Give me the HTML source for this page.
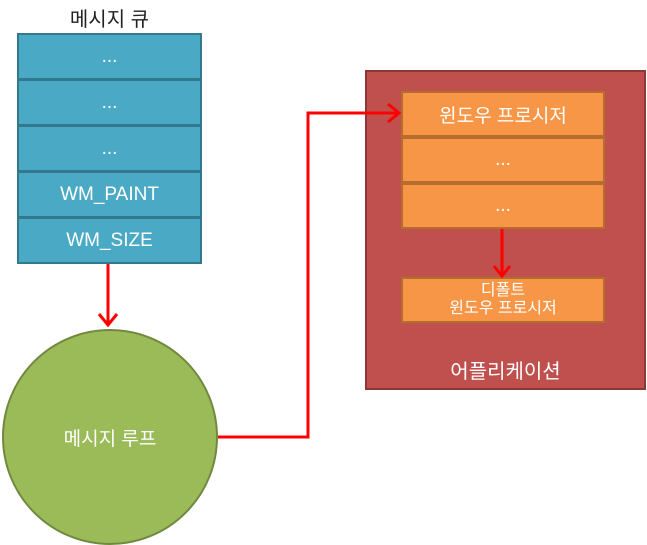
<!DOCTYPE html>
<html><head><meta charset="utf-8"><style>
body{margin:0;width:647px;height:544px;background:#fff;position:relative;overflow:hidden;font-family:"Liberation Sans","Noto Sans CJK KR",sans-serif}
.a{position:absolute;box-sizing:border-box;display:flex;align-items:center;justify-content:center;text-align:center;color:#fff}
.q{background:#4aa9c4;border:2px solid #33788c;font-size:19px;left:17px;width:185px;height:47px}
.o{background:#f79646;border:2px solid #b66d2c;font-size:19px;left:401px;width:204px;height:46px}
</style></head><body>
<div class="a" style="left:17px;top:2px;width:185px;height:30px;color:#222;font-size:20px">메시지 큐</div>
<div class="a q" style="top:33px">...</div>
<div class="a q" style="top:79px">...</div>
<div class="a q" style="top:125px">...</div>
<div class="a q" style="top:171px">WM_PAINT</div>
<div class="a q" style="top:217px">WM_SIZE</div>
<div class="a" style="left:365px;top:70px;width:281px;height:320px;background:#c0504d;border:2px solid #8c3836"></div>
<div class="a o" style="top:91px">윈도우 프로시저</div>
<div class="a o" style="top:137px">...</div>
<div class="a o" style="top:183px">...</div>
<div class="a o" style="top:277px;height:46px;font-size:16px;line-height:18px">디폴트<br>윈도우 프로시저</div>
<div class="a" style="left:365px;top:352px;width:281px;height:34px;font-size:20px">어플리케이션</div>
<div class="a" style="left:2px;top:329px;width:216px;height:216px;border-radius:50%;background:#9bbb59;border:2px solid #71893f;font-size:19px">메시지 루프</div>
<svg style="position:absolute;left:0;top:0" width="647" height="544">
<g stroke="#f00" stroke-width="3" fill="none">
<line x1="108" y1="264" x2="108" y2="325"/>
<polyline points="99,314 108,325 117,314"/>
<polyline points="218,437 308,437 308,113 399,113"/>
<polyline points="388,104 399,113 388,122"/>
<line x1="502" y1="229" x2="502" y2="276"/>
<polyline points="494,266 502,276 510,266"/>
</g></svg>
</body></html>
